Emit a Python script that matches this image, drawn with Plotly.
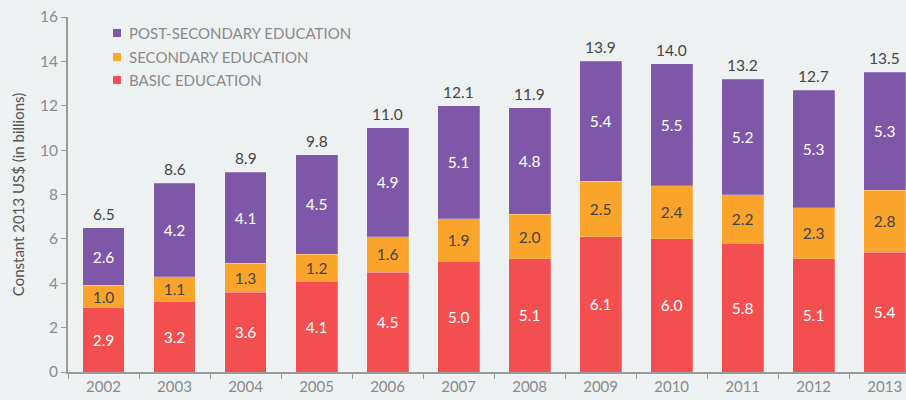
import plotly.graph_objects as go

years = ["2002", "2003", "2004", "2005", "2006", "2007", "2008", "2009", "2010", "2011", "2012", "2013"]
basic = [2.9, 3.2, 3.6, 4.1, 4.5, 5.0, 5.1, 6.1, 6.0, 5.8, 5.1, 5.4]
secondary = [1.0, 1.1, 1.3, 1.2, 1.6, 1.9, 2.0, 2.5, 2.4, 2.2, 2.3, 2.8]
post_secondary = [2.6, 4.2, 4.1, 4.5, 4.9, 5.1, 4.8, 5.4, 5.5, 5.2, 5.3, 5.3]
totals = [6.5, 8.6, 8.9, 9.8, 11.0, 12.1, 11.9, 13.9, 14.0, 13.2, 12.7, 13.5]

series_names = ["BASIC EDUCATION", "SECONDARY EDUCATION", "POST-SECONDARY EDUCATION"]
series_colors = ["#f44f50", "#faa42c", "#7e57a8"]
label_colors = ["white", "#444444", "white"]

FONT = "Lato"
BG = "#eef1f2"
GREY = "#8a8a8a"
DARK = "#454545"

fig = go.Figure()

for name, vals, color, tcol in zip(series_names, [basic, secondary, post_secondary],
                                   series_colors, label_colors):
    fig.add_trace(go.Bar(
        name=name, x=years, y=vals,
        marker=dict(color=color, line=dict(width=0.6, color="rgba(255,255,255,0.35)")),
        text=[f"{v:.1f}" for v in vals], textposition="inside",
        insidetextanchor="middle", constraintext="none",
        textfont=dict(family=FONT, size=15.5, color=tcol),
        hoverinfo="skip", width=0.59, showlegend=False,
    ))

stack_tops = [b + s + p for b, s, p in zip(basic, secondary, post_secondary)]
annotations = []
for i, (y, t) in enumerate(zip(stack_tops, totals)):
    annotations.append(dict(x=i, y=y, xref="x", yref="y", text=f"{t:.1f}",
                            showarrow=False, yanchor="bottom", yshift=3,
                            font=dict(family=FONT, size=15.5, color=DARK)))

shapes = []
legend_rows = [(2, 0.955), (1, 0.887), (0, 0.8225)]
for idx, yc in legend_rows:
    shapes.append(dict(type="rect", xref="paper", yref="paper",
                       x0=0.0537, x1=0.0632, y0=yc - 0.0113, y1=yc + 0.0113,
                       fillcolor=series_colors[idx], line=dict(width=0)))
    annotations.append(dict(xref="paper", yref="paper", x=0.0704, y=yc,
                            xanchor="left", yanchor="middle", showarrow=False,
                            text=series_names[idx],
                            font=dict(family=FONT, size=15, color=GREY)))

fig.update_layout(
    width=906, height=400,
    margin=dict(l=68, r=0, t=17, b=28),
    paper_bgcolor=BG, plot_bgcolor=BG,
    barmode="stack",
    font=dict(family=FONT, color=GREY, size=14),
    showlegend=False,
    annotations=annotations,
    shapes=shapes,
    xaxis=dict(
        range=[-0.5, 11.3], showgrid=False, zeroline=False,
        showline=True, linecolor="#9a9a9a", linewidth=2,
        ticks="outside", tickson="boundaries", ticklen=5, tickcolor="#9a9a9a",
        tickfont=dict(family=FONT, size=15, color=GREY),
        fixedrange=True,
    ),
    yaxis=dict(
        range=[0, 16], dtick=2, showgrid=False, zeroline=False,
        showline=True, linecolor="#9a9a9a", linewidth=2,
        ticks="outside", ticklen=5, tickcolor="#9a9a9a",
        tickfont=dict(family=FONT, size=15.5, color=GREY),
        title=dict(text="Constant 2013 US$ (in billions)",
                   font=dict(family=FONT, size=15, color="#555555"), standoff=12),
    ),
)

fig.write_html("out.html", config={"displayModeBar": False},
               post_script="document.body.style.margin='0';")
